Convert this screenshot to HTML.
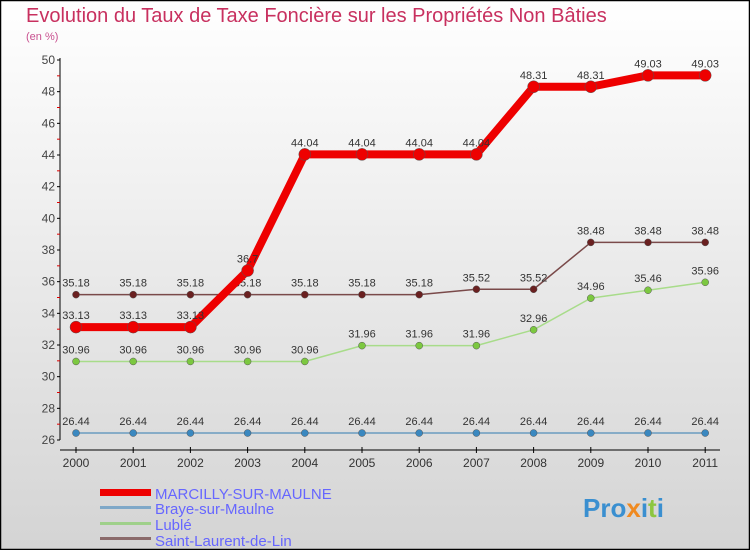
<!DOCTYPE html>
<html><head><meta charset="utf-8"><style>
body{margin:0;}
svg{display:block;font-family:"Liberation Sans",sans-serif;}
</style></head><body>
<svg id="chart" width="750" height="550" xmlns="http://www.w3.org/2000/svg">
<defs><linearGradient id="bg" x1="0" y1="0" x2="0" y2="1"><stop offset="0" stop-color="#ffffff"/><stop offset="1" stop-color="#d4d4d4"/></linearGradient></defs>
<rect x="0.5" y="0.5" width="749" height="549" fill="url(#bg)" stroke="#000" stroke-width="1.5"/>
<text x="26" y="22" font-size="20" fill="#c8305f">Evolution du Taux de Taxe Foncière sur les Propriétés Non Bâties</text>
<text x="26" y="40" font-size="11" fill="#c8508f">(en %)</text>
<g id="axes"></g>
<g id="series"></g>
<g id="legend">
<rect x="100" y="489" width="51" height="7" fill="#e00"/>
<text x="155" y="499" font-size="15" fill="#6666ff">MARCILLY-SUR-MAULNE</text>
<rect x="100" y="506" width="51" height="3" fill="#7fa8c8"/>
<text x="155" y="514" font-size="15" fill="#6666ff">Braye-sur-Maulne</text>
<rect x="100" y="522" width="51" height="3" fill="#9fd08a"/>
<text x="155" y="530" font-size="15" fill="#6666ff">Lublé</text>
<rect x="100" y="537" width="51" height="3" fill="#8a6a6a"/>
<text x="155" y="546" font-size="15" fill="#6666ff">Saint-Laurent-de-Lin</text>
</g>
<text x="583" y="517" font-size="26" font-weight="bold" fill="#3a8fd0">Pro<tspan fill="#f08a20">x</tspan>i<tspan fill="#8cc63f">t</tspan>i</text>
</svg>
<script>
const years=["2000","2001","2002","2003","2004","2005","2006","2007","2008","2009","2010","2011"];
const yTicks=[26,28,30,32,34,36,38,40,42,44,46,48,50];
const marcilly=[33.13,33.13,33.13,36.7,44.04,44.04,44.04,44.04,48.31,48.31,49.03,49.03];
const marcillyLabels=["33.13","33.13","33.13","36.7","44.04","44.04","44.04","44.04","48.31","48.31","49.03","49.03"];
const braye=[26.44,26.44,26.44,26.44,26.44,26.44,26.44,26.44,26.44,26.44,26.44,26.44];
const luble=[30.96,30.96,30.96,30.96,30.96,31.96,31.96,31.96,32.96,34.96,35.46,35.96];
const saintLaurent=[35.18,35.18,35.18,35.18,35.18,35.18,35.18,35.52,35.52,38.48,38.48,38.48];
const NS="http://www.w3.org/2000/svg";
const X0=76,XS=57.2,Y0=440,YMIN=26,YS=380/24;
const xs=i=>X0+i*XS, ys=v=>Y0-(v-YMIN)*YS;
function mk(tag,attrs,parent){const e=document.createElementNS(NS,tag);for(const k in attrs)e.setAttribute(k,attrs[k]);parent.appendChild(e);return e;}
const ax=document.getElementById('axes');
let l=mk('line',{x1:60,y1:ys(50)-2,x2:60,y2:ys(26)},ax);


l.setAttribute('stroke','#000');
yTicks.forEach(v=>{
 mk('line',{x1:57,x2:60,y1:ys(v),y2:ys(v),stroke:'#000'},ax);
 if(v<50) mk('line',{x1:57,x2:60,y1:ys(v+1),y2:ys(v+1),stroke:'#d00'},ax);
 const t=mk('text',{x:55,y:ys(v)+4,'font-size':12,'text-anchor':'end',fill:'#444'},ax);
 
 
 t.textContent=v;
});
let xa=mk('line',{x1:60,x2:720,y1:450,y2:450,stroke:'#000'},ax);


years.forEach((y,i)=>{
 mk('line',{x1:xs(i),x2:xs(i),y1:447,y2:453,stroke:'#000'},ax);
 const t=mk('text',{x:xs(i),y:467,'font-size':12,'text-anchor':'middle',fill:'#333'},ax);
 
 
 t.textContent=y;
});
const sg=document.getElementById('series');
function draw(vals,labels,color,dot,w,r,name){
 const g=mk('g',{},sg);
 
 
 const p=mk('polyline',{points:vals.map((v,i)=>xs(i)+','+ys(v)).join(' '),fill:'none',stroke:color,'stroke-width':w,'stroke-linejoin':'round'},g);
 
 
 vals.forEach((v,i)=>{
  const c=mk('circle',{cx:xs(i),cy:ys(v),r:r,fill:dot,stroke:'#555','stroke-width':0.5},g);
  
  
  const t=mk('text',{x:xs(i),y:ys(v)-8,'font-size':11,'text-anchor':'middle',fill:'#333'},g);
  
  
  t.textContent=labels?labels[i]:v.toFixed(2);
 });
}
draw(braye,null,'#6a9cc0','#3a88c0',1.5,3.5,'braye-series');
draw(luble,null,'#a8dc8a','#7cc840',1.5,3.5,'luble-series');
draw(saintLaurent,null,'#7a4a4a','#6a2020',1.5,3.5,'saint-laurent-series');
draw(marcilly,marcillyLabels,'#ee0000','#ee0000',8,6,'marcilly-series');
</script>
</body></html>
